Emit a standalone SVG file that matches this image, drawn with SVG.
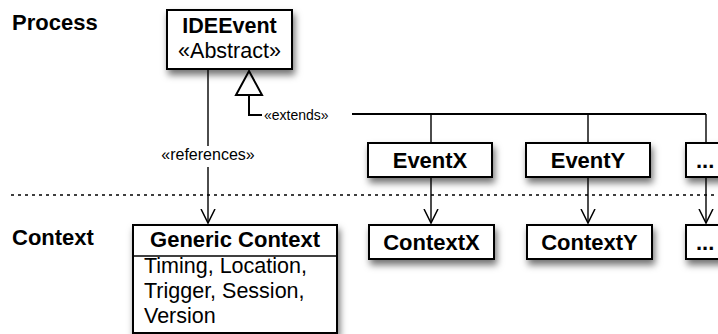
<svg xmlns="http://www.w3.org/2000/svg" width="718" height="334" viewBox="0 0 718 334">
<defs>
<filter id="sh" x="-20%" y="-30%" width="150%" height="180%">
<feDropShadow dx="2" dy="5" stdDeviation="3.5" flood-color="#000" flood-opacity="0.55"/>
</filter>
<marker id="open" markerWidth="16" markerHeight="16" refX="14" refY="7" orient="auto" markerUnits="userSpaceOnUse" viewBox="0 0 16 14">
<path d="M0,0 L14,7 L0,14" fill="none" stroke="#000" stroke-width="1.5"/>
</marker>
</defs>
<style>
text{font-family:"Liberation Sans",Arial,sans-serif;fill:#000}
.b{font-weight:bold}
.box{fill:#fff;stroke:#000;stroke-width:2}
.ln{fill:none;stroke:#000;stroke-width:1.4}
.lbl{font-size:22px;font-weight:bold}
.body{font-size:21.5px}
</style>
<text x="12" y="30" class="lbl" font-size="21.5">Process</text>
<text x="12" y="245" class="lbl" font-size="21.5">Context</text>
<line x1="11" y1="195" x2="718" y2="195" stroke="#000" stroke-width="1.6" stroke-dasharray="3,4"/>
<g id="connectors">
<line class="ln" x1="208" y1="69" x2="208" y2="146"/>
<line class="ln" x1="208" y1="167" x2="208" y2="223" marker-end="url(#open)"/>
<text x="208" y="160" font-size="16" text-anchor="middle">«references»</text>
<path d="M249,95 V115 H262" fill="none" stroke="#000" stroke-width="2"/>
<polygon points="249,71 262,95 236,95" fill="#fff" stroke="#000" stroke-width="2"/>
<text x="264" y="120" font-size="14">«extends»</text>
<path d="M352,114 H706" fill="none" stroke="#000" stroke-width="2"/>
<line class="ln" x1="431" y1="114" x2="431" y2="143"/>
<line class="ln" x1="588" y1="114" x2="588" y2="143"/>
<line class="ln" x1="706" y1="114" x2="706" y2="143"/>
<line class="ln" x1="431" y1="177" x2="431" y2="223" marker-end="url(#open)"/>
<line class="ln" x1="588" y1="177" x2="588" y2="223" marker-end="url(#open)"/>
<line class="ln" x1="706" y1="177" x2="706" y2="223" marker-end="url(#open)"/>
</g>
<g id="ideevent">
<rect class="box" x="167" y="10" width="125" height="59" filter="url(#sh)"/>
<text x="229.5" y="33" font-size="21.5" class="b" text-anchor="middle">IDEEvent</text>
<text x="229.5" y="58" font-size="21.5" text-anchor="middle">«Abstract»</text>
</g>
<g id="eventx">
<rect class="box" x="368" y="143" width="124" height="34" filter="url(#sh)"/>
<text x="430" y="167.5" class="lbl" text-anchor="middle">EventX</text>
</g>
<g id="eventy">
<rect class="box" x="526" y="143" width="124" height="34" filter="url(#sh)"/>
<text x="588" y="167.5" class="lbl" text-anchor="middle">EventY</text>
</g>
<g id="eventmore">
<rect class="box" x="686" y="143" width="60" height="34" filter="url(#sh)"/>
<text x="696" y="167.5" class="lbl">...</text>
</g>
<g id="genericcontext">
<rect class="box" x="133" y="225" width="204" height="108" filter="url(#sh)"/>
<line x1="133" y1="256" x2="337" y2="256" stroke="#000" stroke-width="1.5"/>
<text x="235" y="247" class="lbl" text-anchor="middle">Generic Context</text>
<text x="144" y="273" class="body">Timing, Location,</text>
<text x="144" y="298" class="body">Trigger, Session,</text>
<text x="144" y="323" class="body">Version</text>
</g>
<g id="contextx">
<rect class="box" x="369" y="225" width="125" height="34" filter="url(#sh)"/>
<text x="431.5" y="249.5" class="lbl" text-anchor="middle">ContextX</text>
</g>
<g id="contexty">
<rect class="box" x="527" y="225" width="125" height="34" filter="url(#sh)"/>
<text x="589.5" y="249.5" class="lbl" text-anchor="middle">ContextY</text>
</g>
<g id="contextmore">
<rect class="box" x="686" y="225" width="60" height="34" filter="url(#sh)"/>
<text x="696" y="249.5" class="lbl">...</text>
</g>
</svg>
